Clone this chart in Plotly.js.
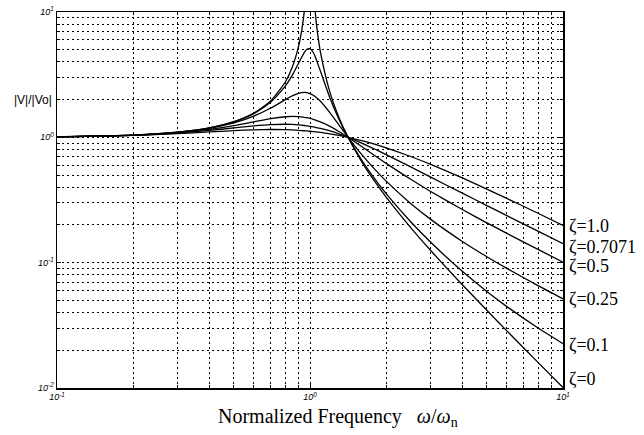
<!DOCTYPE html>
<html>
<head>
<meta charset="utf-8">
<script src="https://cdn.plot.ly/plotly-3.0.1.min.js"></script>
<style>html,body{margin:0;padding:0;background:#fff;}#chart{width:644px;height:435px;}</style>
</head>
<body>
<div id="chart"></div>
<script>
// Normalized frequency (shared grid for damped curves)
const freq = [0.1, 0.2, 0.3, 0.4, 0.5, 0.6, 0.7, 0.8, 0.85, 0.9, 0.95, 0.97, 1.0, 1.03, 1.05, 1.1, 1.2, 1.3, 1.414, 1.6, 1.8, 2, 2.5, 3, 4, 5, 6, 8, 10];
const magZeta1    = [1.0097, 1.0356, 1.0699, 1.1040, 1.1314, 1.1486, 1.1547, 1.1505, 1.1450, 1.1376, 1.1286, 1.1245, 1.1180, 1.1111, 1.1063, 1.0935, 1.0656, 1.0356, 1.0, 0.94175, 0.88121, 0.82462, 0.70331, 0.60828, 0.47425, 0.38653, 0.32545, 0.24663, 0.19827];
const magZeta0707 = [1.0099, 1.0384, 1.0819, 1.1345, 1.1882, 1.2340, 1.2636, 1.2718, 1.2675, 1.2578, 1.2433, 1.2364, 1.2247, 1.2119, 1.2028, 1.1781, 1.1236, 1.0658, 1.0, 0.90012, 0.80658, 0.72761, 0.58049, 0.48136, 0.35834, 0.28543, 0.23724, 0.17744, 0.14177];
const magZeta05   = [1.0100, 1.0400, 1.0896, 1.1576, 1.2403, 1.3294, 1.4094, 1.4598, 1.4678, 1.4626, 1.4443, 1.4336, 1.4142, 1.3913, 1.3744, 1.3275, 1.2221, 1.1144, 1.0, 0.84434, 0.71657, 0.62017, 0.46305, 0.37011, 0.26559, 0.20799, 0.17129, 0.12695, 0.10100];
const magZeta025  = [1.0101, 1.0412, 1.0964, 1.1810, 1.3039, 1.4771, 1.7129, 2.0014, 2.1407, 2.2449, 2.2831, 2.2747, 2.2361, 2.1690, 2.1115, 1.9385, 1.5674, 1.2582, 1.0, 0.73046, 0.55731, 0.44721, 0.29662, 0.22149, 0.14776, 0.11159, 0.090021, 0.065314, 0.051440];
const magZeta01   = [1.0101, 1.0416, 1.0985, 1.1889, 1.3282, 1.5468, 1.9093, 2.5707, 3.1170, 3.8822, 4.7663, 5.0228, 5.0990, 4.7529, 4.3727, 3.3666, 2.0519, 1.4013, 1.0, 0.65932, 0.46847, 0.35586, 0.21200, 0.14537, 0.085253, 0.058875, 0.044604, 0.029940, 0.022582];
// Undamped curve (goes off the top near resonance)
const freqZeta0 = [0.1, 0.2, 0.3, 0.4, 0.5, 0.6, 0.7, 0.8, 0.85, 0.9, 0.93, 0.95, 0.97, 1.03, 1.05, 1.07, 1.1, 1.2, 1.3, 1.414, 1.6, 1.8, 2, 2.5, 3, 4, 5, 6, 8, 10];
const magZeta0  = [1.0101, 1.0417, 1.0989, 1.1905, 1.3333, 1.5625, 1.9608, 2.7778, 3.6036, 5.2632, 7.402, 10.256, 16.92, 16.42, 9.7561, 6.901, 4.7619, 2.2727, 1.4493, 1.0, 0.64103, 0.44643, 0.33333, 0.19048, 0.125, 0.066667, 0.041667, 0.028571, 0.015873, 0.010101];

const zetaLabels = ['ζ=1.0', 'ζ=0.7071', 'ζ=0.5', 'ζ=0.25', 'ζ=0.1', 'ζ=0'];
const zetaLabelLogY = [-0.7075, -0.875, -1.027, -1.290, -1.657, -1.928];

const xTickVals = [0.1, 1, 10];
const xTickText = ['10<sup>-1</sup>', '10<sup>0</sup>', '10<sup>1</sup>'];
const xMinorVals = [0.2,0.3,0.4,0.5,0.6,0.7,0.8,0.9,2,3,4,5,6,7,8,9];
const yTickVals = [0.01, 0.1, 1, 10];
const yTickText = ['10<sup>-2</sup>', '10<sup>-1</sup>', '10<sup>0</sup>', '10<sup>1</sup>'];
const yMinorVals = [0.02,0.03,0.04,0.05,0.06,0.07,0.08,0.09,0.2,0.3,0.4,0.5,0.6,0.7,0.8,0.9,2,3,4,5,6,7,8,9];

const lineStyle = {color: '#000', width: 1.3, shape: 'spline', smoothing: 0.6};
const series = [
  {x: freq, y: magZeta1}, {x: freq, y: magZeta0707}, {x: freq, y: magZeta05},
  {x: freq, y: magZeta025}, {x: freq, y: magZeta01}, {x: freqZeta0, y: magZeta0}
];
const traces = series.map(s => ({x: s.x, y: s.y, type: 'scatter', mode: 'lines', line: lineStyle, hoverinfo: 'skip'}));

const tickFont = {family: 'Liberation Sans, Arial, sans-serif', size: 9, color: '#000', style: 'italic'};
const gridDash = '2px,3px';
const axisCommon = {
  type: 'log', showgrid: true, gridcolor: '#000', gridwidth: 1, griddash: gridDash,
  showline: true, linecolor: '#000', linewidth: 1.5, mirror: 'ticks',
  ticks: 'inside', ticklen: 4, tickcolor: '#000', tickfont: tickFont, zeroline: false
};
function minorOf(vals) {
  return {tickmode: 'array', tickvals: vals, ticks: 'inside', ticklen: 3, tickcolor: '#000',
          showgrid: true, gridcolor: '#000', gridwidth: 1, griddash: gridDash};
}

const serifFamily = "'Liberation Serif', 'Times New Roman', serif";
const annotations = zetaLabels.map((t, i) => ({
  text: t, xref: 'paper', x: 1, xshift: 4, xanchor: 'left', yref: 'y', y: zetaLabelLogY[i], yanchor: 'middle',
  showarrow: false, font: {family: serifFamily, size: 18, color: '#000'}
}));
annotations.push({
  text: '|V|/|Vo|', xref: 'paper', x: 0, xshift: -3, xanchor: 'right', yref: 'y', y: 0.301, yanchor: 'middle',
  showarrow: false, font: {family: 'Liberation Sans, Arial, sans-serif', size: 12, color: '#000'}
});
annotations.push({
  text: 'Normalized Frequency   <i>ω</i>/<i>ω</i><sub>n</sub>', xref: 'paper', x: 0.555, xanchor: 'center',
  yref: 'paper', y: 0, yshift: -15, yanchor: 'top', showarrow: false,
  font: {family: serifFamily, size: 20, color: '#000'}
});

const layout = {
  width: 644, height: 435,
  margin: {l: 57, r: 81, t: 12, b: 47},
  paper_bgcolor: '#fff', plot_bgcolor: '#fff',
  showlegend: false,
  xaxis: Object.assign({}, axisCommon, {range: [-1, 1], tickmode: 'array', tickvals: xTickVals, ticktext: xTickText, minor: minorOf(xMinorVals)}),
  yaxis: Object.assign({}, axisCommon, {range: [-2, 1], tickmode: 'array', tickvals: yTickVals, ticktext: yTickText, minor: minorOf(yMinorVals)}),
  annotations: annotations
};

Plotly.newPlot('chart', traces, layout, {staticPlot: true, displayModeBar: false});
</script>
</body>
</html>
